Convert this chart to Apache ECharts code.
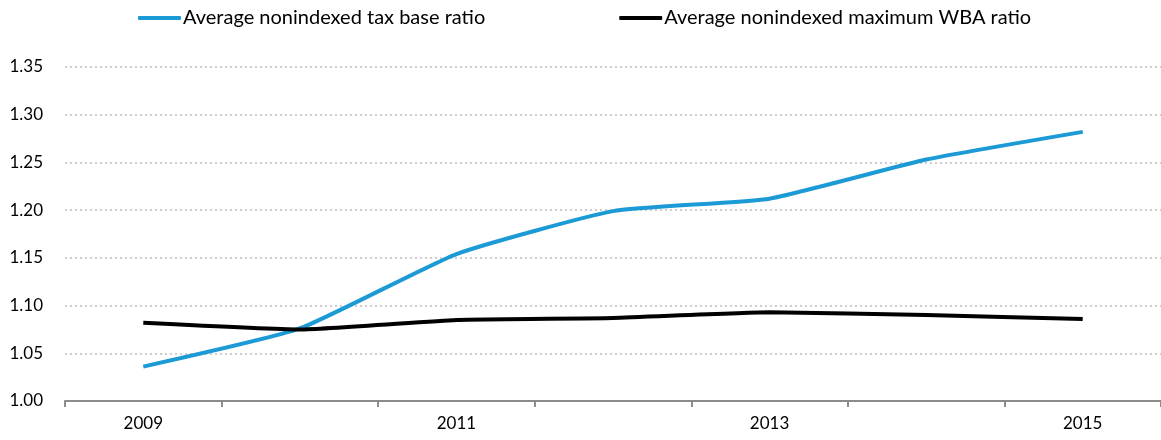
<!DOCTYPE html>
<html>
<head>
<meta charset="utf-8">
<script src="https://cdn.jsdelivr.net/npm/echarts@6/dist/echarts.min.js"></script>
<style>
  html, body { margin: 0; padding: 0; background: #fff; }
  #chart { width: 1161px; height: 440px; }
</style>
</head>
<body>
<div id="chart"></div>
<script>
// years on the x axis
const years = ['2009', '2010', '2011', '2012', '2013', '2014', '2015'];
// series values
const taxBaseRatio = [1.036, 1.076, 1.154, 1.199, 1.212, 1.253, 1.282];
const maxWbaRatio = [1.082, 1.075, 1.085, 1.087, 1.093, 1.090, 1.086];
const seriesNames = ['Average nonindexed tax base ratio', 'Average nonindexed maximum WBA ratio'];

const chart = echarts.init(document.getElementById('chart'));

chart.setOption({
  animation: false,
  textStyle: { fontFamily: 'Lato' },
  legend: {
    left: 133,
    top: 3,
    itemWidth: 43,
    itemHeight: 4,
    itemGap: 134,
    icon: 'roundRect',
    textStyle: { fontSize: 20, color: '#000', fontFamily: 'Lato', padding: [0, 0, 0, -3] },
    data: seriesNames
  },
  grid: { left: 65, right: -5, top: 67, bottom: 39 },
  xAxis: {
    type: 'category',
    data: years,
    boundaryGap: true,
    axisLine: { lineStyle: { color: '#8c8c8c', width: 2 } },
    axisTick: { show: true, interval: 0, length: 6, lineStyle: { color: '#8c8c8c', width: 2 } },
    axisLabel: { interval: 1, fontSize: 17, color: '#000', margin: 14, fontFamily: 'Lato' },
    splitLine: { show: false }
  },
  yAxis: {
    type: 'value',
    min: 1,
    max: 1.35,
    interval: 0.05,
    axisLine: { show: false },
    axisTick: { show: false },
    axisLabel: {
      fontSize: 17, color: '#000', margin: 22, fontFamily: 'Lato',
      formatter: v => v.toFixed(2)
    },
    splitLine: { lineStyle: { color: '#bdbdbd', type: [2, 3], width: 1.5 } }
  },
  series: [
    {
      name: seriesNames[0],
      type: 'line',
      data: taxBaseRatio,
      smooth: 0.15,
      symbol: 'none',
      lineStyle: { color: '#1c9ad6', width: 4 },
      itemStyle: { color: '#1c9ad6' }
    },
    {
      name: seriesNames[1],
      type: 'line',
      data: maxWbaRatio,
      smooth: 0.15,
      symbol: 'none',
      lineStyle: { color: '#000', width: 4 },
      itemStyle: { color: '#000' }
    }
  ]
});
</script>
</body>
</html>
